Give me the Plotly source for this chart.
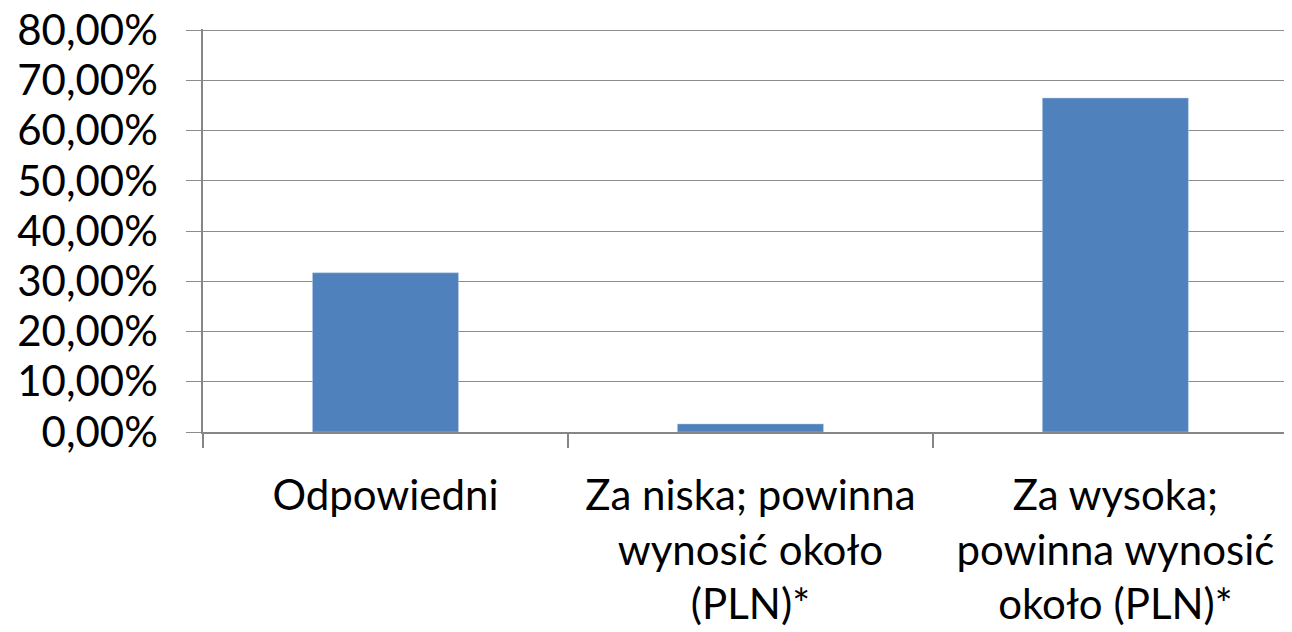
import plotly.graph_objects as go

categories = ["Odpowiedni",
              "Za niska; powinna<br>wynosić około<br>(PLN)*",
              "Za wysoka;<br>powinna wynosić<br>około (PLN)*"]
values = [0.317, 0.016, 0.665]
y_ticks = [0, 0.1, 0.2, 0.3, 0.4, 0.5, 0.6, 0.7, 0.8]

fig = go.Figure(go.Bar(x=categories, y=values, width=0.4,
                       marker=dict(color="#4F81BD", line=dict(color="#B9CDE5", width=0.5))))

font = dict(family="Lato", size=42, color="#000000")
fig.update_layout(
    width=1284, height=624,
    margin=dict(l=195, r=0, t=21, b=200),
    paper_bgcolor="white", plot_bgcolor="white",
    separators=", ",
    showlegend=False,
    font=font,
    bargap=0.6,
)
fig.update_xaxes(
    range=[-0.5, 2.484], showgrid=False, automargin=False,
    showline=True, linecolor="#868686", linewidth=1.5,
    ticks="outside", tickson="boundaries", ticklen=14, tickcolor="#868686", tickwidth=1.5,
    tickfont=font, ticklabelstandoff=26, ticklabeloverflow="allow",
)
fig.update_yaxes(
    range=[0, 0.8025], tickvals=y_ticks, tickformat=".2%", automargin=False,
    showgrid=True, gridcolor="#8C8C8C", gridwidth=1.2,
    showline=True, linecolor="#868686", linewidth=1.5,
    ticks="outside", ticklen=15, tickcolor="#8C8C8C", tickwidth=1.2,
    tickfont=font, ticklabelstandoff=20, ticklabeloverflow="allow", zeroline=False,
)
fig.write_html("out.html")
